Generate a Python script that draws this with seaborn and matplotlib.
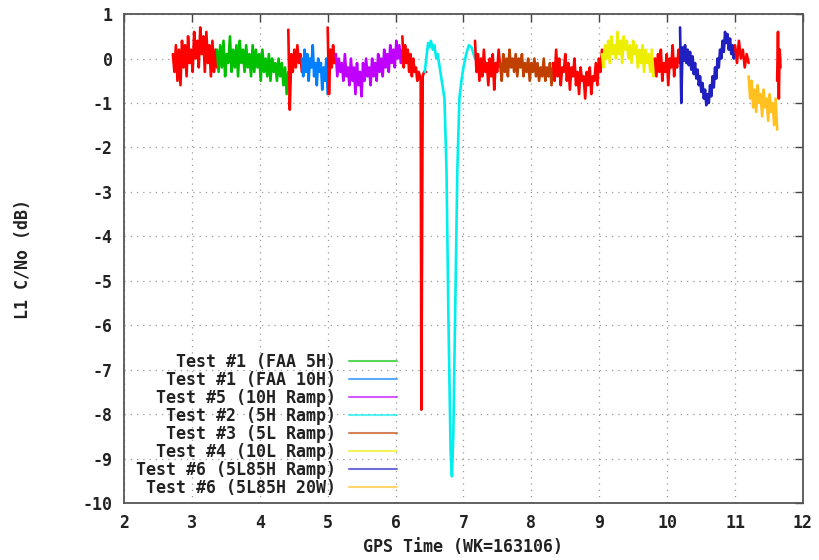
import numpy as np
import pandas as pd
import matplotlib
matplotlib.use("Agg")
import matplotlib.pyplot as plt
import seaborn as sns
from matplotlib.lines import Line2D

# ---------------- data ----------------
red1_y = [0.1, -0.3, 0.3, -0.5, 0.2, -0.6, 0.4, -0.2, 0.3, -0.4, 0.5, -0.1, 0.2, -0.3, 0.6,
          0.0, 0.4, -0.2, 0.7, 0.1, 0.5, -0.3, 0.6, -0.1, 0.3, -0.4, 0.4, -0.3, 0.2, -0.2]
green_y = [0.2, -0.3, 0.3, -0.2, 0.4, -0.4, 0.1, -0.1, 0.5, -0.3, 0.2, -0.2, 0.3, -0.4, 0.4,
           -0.1, 0.2, -0.3, 0.3, -0.2, 0.1, -0.4, 0.3, -0.3, 0.2, -0.2, 0.1, -0.5, 0.2, -0.3,
           0.0, -0.4, 0.1, -0.5, 0.0, -0.3, -0.1, -0.5, 0.0, -0.4, -0.1, -0.6, -0.2, -0.8, -0.3]
red2_y = [0.65, -1.15, 0.1, -0.3, 0.2, -0.2, 0.3, -0.1, 0.1, -0.3]
blue_y = [0.0, -0.4, 0.2, -0.3, 0.1, -0.5, 0.0, -0.2, 0.3, -0.4, -0.1, -0.6, 0.0, -0.3, -0.1,
          -0.7, -0.2, -0.5, 0.0, -0.8]
red3_y = [0.7, -0.8, 0.2, -0.2, 0.3, -0.1, 0.1]
magenta_y = [0.1, -0.4, 0.0, -0.3, -0.1, -0.5, 0.1, -0.4, -0.2, -0.6, 0.0, -0.5, -0.2, -0.8, -0.1,
             -0.6, -0.3, -0.85, -0.1, -0.5, 0.0, -0.4, -0.2, -0.6, 0.0, -0.4, -0.1, -0.5, 0.1, -0.3,
             0.0, -0.4, 0.2, -0.2, 0.1, -0.3, 0.3, -0.1, 0.2, -0.2, 0.4, 0.0, 0.3, -0.1, 0.2]
red4_t = [6.10, 6.12, 6.14, 6.16, 6.18, 6.20, 6.22, 6.24, 6.26, 6.28, 6.30, 6.32, 6.34, 6.36,
          6.37, 6.38, 6.40, 6.42, 6.45]
red4_y = [0.5, -0.2, 0.3, -0.1, 0.2, -0.3, 0.1, -0.4, 0.0, -0.3, -0.2, -0.5, -0.3, -0.4,
          -0.5, -7.9, -0.4, -0.3, -0.3]
cyan_t = [6.43, 6.46, 6.48, 6.50, 6.52, 6.55, 6.57, 6.60, 6.62, 6.65, 6.68, 6.72, 6.75, 6.78,
          6.81, 6.83, 6.85, 6.88, 6.91, 6.94, 6.97, 7.00, 7.04, 7.08, 7.12, 7.17]
cyan_y = [-0.3, 0.1, 0.35, 0.25, 0.4, 0.2, 0.3, 0.0, 0.1, -0.2, -0.5, -0.9, -2.5, -6.0,
          -8.8, -9.4, -8.5, -5.5, -2.5, -0.9, -0.5, -0.2, 0.1, 0.3, 0.25, 0.0]
red5_y = [0.4, -0.3, 0.1, -0.5, 0.0, -0.4, 0.2, -0.3, -0.1, -0.6, 0.0, -0.4, 0.1, -0.7, -0.1,
          -0.3, 0.2, -0.2]
brown_y = [-0.1, -0.5, 0.1, -0.3, 0.0, -0.4, 0.2, -0.2, 0.0, -0.3, 0.1, -0.4, 0.0, -0.2, 0.1,
           -0.4, -0.1, -0.3, 0.0, -0.5, -0.1, -0.3, 0.0, -0.4, -0.1, -0.5, -0.2, -0.4, 0.0, -0.5,
           -0.2, -0.4, -0.1, -0.6, -0.2]
red6_y = [-0.1, -0.5, 0.2, -0.4, 0.0, -0.6, -0.2, -0.3, 0.1, -0.5, -0.1, -0.7, -0.2, -0.4, 0.0,
          -0.6, -0.3, -0.8, -0.2, -0.5, -0.4, -0.9, -0.3, -0.6, -0.2, -0.8, -0.4, -0.5, -0.1, -0.6,
          0.0, -0.3, 0.2]
yellow_y = [0.1, -0.2, 0.3, 0.0, 0.4, -0.1, 0.5, 0.1, 0.3, 0.0, 0.6, 0.1, 0.4, -0.1, 0.5,
            0.2, 0.4, 0.0, 0.3, -0.1, 0.4, 0.1, 0.3, -0.2, 0.2, -0.1, 0.3, -0.3, 0.2, -0.1,
            0.1, -0.3, 0.2, -0.4, 0.0]
red7_y = [0.0, -0.4, 0.1, -0.3, 0.2, -0.5, -0.1, -0.3, 0.1, -0.6, 0.0, -0.2, 0.3, -0.4, 0.0,
          -0.2, 0.2, -0.1]
navy_y = [0.7, -1.0, 0.25, -0.05, 0.3, -0.1, 0.2, -0.15, 0.15, -0.25, 0.05, -0.35, -0.1, -0.45,
          -0.25, -0.6, -0.4, -0.75, -0.55, -0.9, -0.7, -1.05, -0.8, -1.0, -0.6, -0.85, -0.4,
          -0.65, -0.2, -0.45, 0.0, -0.2, 0.2, 0.0, 0.4, 0.15, 0.6, 0.35, 0.55, 0.2, 0.45, 0.1,
          0.3, 0.0, 0.2]
red8_y = [0.3, -0.1, 0.4, 0.0, 0.2, -0.2, 0.1, -0.1]
orange_y = [-0.4, -0.9, -0.5, -1.1, -0.7, -1.2, -0.6, -1.0, -0.8, -1.3, -0.7, -1.1, -0.9, -1.4,
            -0.8, -1.2, -1.0, -1.5, -0.9, -1.6]
red9_y = [-0.5, 0.6, -0.9, 0.2, -0.2]

seg_names = ["red1", "green", "red2", "blue", "red3", "magenta", "red4", "cyan", "red5",
             "brown", "red6", "yellow", "red7", "navy", "red8", "orange", "red9"]
seg_start = [2.72, 3.37, 4.42, 4.62, 5.00, 5.12, None, None, 7.17, 7.54, 8.32, 9.04, 9.82,
             10.19, 11.00, 11.20, 11.62]
seg_end = [3.37, 4.42, 4.62, 5.00, 5.12, 6.10, None, None, 7.54, 8.32, 9.04, 9.82, 10.19,
           11.00, 11.20, 11.62, 11.67]
seg_values = [red1_y, green_y, red2_y, blue_y, red3_y, magenta_y, red4_y, cyan_y, red5_y,
              brown_y, red6_y, yellow_y, red7_y, navy_y, red8_y, orange_y, red9_y]
seg_times = {"red4": red4_t, "cyan": cyan_t}

legend_labels = ["Test #1 (FAA 5H)", "Test #1 (FAA 10H)", "Test #5 (10H Ramp)",
                 "Test #2 (5H Ramp)", "Test #3 (5L Ramp)", "Test #4 (10L Ramp)",
                 "Test #6 (5L85H Ramp)", "Test #6 (5L85H 20W)"]
legend_segs = ["green", "blue", "magenta", "cyan", "brown", "yellow", "navy", "orange"]

x_ticks = list(range(2, 13))
y_ticks = list(range(-10, 2))

# ---------------- styling ----------------
col = {"red": "#FF0000", "green": "#00C000", "blue": "#0080FF", "magenta": "#C000FF",
       "cyan": "#00EEEE", "brown": "#C04000", "yellow": "#EEEE00", "navy": "#2020C0",
       "orange": "#FFC020"}

def seg_color(name):
    return col["red"] if name.startswith("red") else col[name]

rows = []
for name, s, e, vals in zip(seg_names, seg_start, seg_end, seg_values):
    ts = seg_times[name] if name in seg_times else np.linspace(s, e, len(vals))
    for t, v in zip(ts, vals):
        rows.append((name, t, v))
df = pd.DataFrame(rows, columns=["seg", "t", "v"])

sns.set_theme(style="white")
plt.rcParams["font.family"] = ["DejaVu Sans Mono"]
plt.rcParams["font.weight"] = "bold"

FS = 12
fig = plt.figure(figsize=(8.2, 5.6), dpi=100)
ax = fig.add_axes([0.1512, 0.1018, 0.828, 0.873])

palette = {n: seg_color(n) for n in seg_names}
sns.lineplot(data=df, x="t", y="v", hue="seg", hue_order=seg_names, palette=palette,
             estimator=None, sort=False, legend=False, linewidth=1.9, ax=ax)

ax.set_xlim(2, 12)
ax.set_ylim(-10, 1)
ax.set_xticks(x_ticks)
ax.set_yticks(y_ticks)
ax.set_xticklabels([str(v) for v in x_ticks], fontsize=FS, fontweight="bold", color="#222222")
ax.set_yticklabels([str(v) for v in y_ticks], fontsize=FS, fontweight="bold", color="#222222")
ax.tick_params(direction="in", length=6, width=1, top=True, right=True, pad=8,
               color="#444444")
ax.grid(True, linestyle=(0, (1, 4)), color="#999999", linewidth=0.9)
for sp in ax.spines.values():
    sp.set_color("#555555")
    sp.set_linewidth(1.3)

ax.set_xlabel("GPS Time (WK=163106)", fontsize=FS, fontweight="bold", color="#222222")
ax.set_ylabel("L1 C/No (dB)", fontsize=FS, fontweight="bold", color="#222222")
ax.xaxis.set_label_coords(0.5, -0.071)
ax.yaxis.set_label_coords(-0.136, 0.5)

handles = [Line2D([0], [0], color=col[s], lw=1.5, alpha=0.65) for s in legend_segs]
leg = ax.legend(handles, legend_labels, loc="lower right", bbox_to_anchor=(0.402, 0.012),
                markerfirst=False, frameon=False, fontsize=FS, labelspacing=0.0,
                handlelength=2.85, handletextpad=0.8, borderpad=0.0, borderaxespad=0.0)
for t in leg.get_texts():
    t.set_fontweight("bold")
    t.set_color("#222222")

fig.savefig("out.png", dpi=100, facecolor="white")
